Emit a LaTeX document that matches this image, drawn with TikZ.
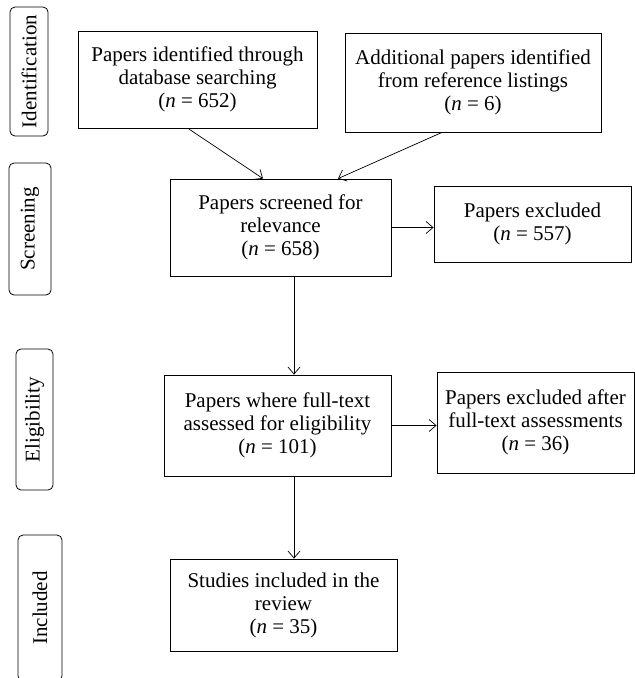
\documentclass[tikz,border=0pt]{standalone}
\usepackage{fontspec}
\setmainfont{Liberation Serif}
\usetikzlibrary{arrows.meta}

\tikzset{
  box/.style={draw, line width=0.8pt, align=center, inner sep=2pt,
    font=\fontsize{21}{23}\selectfont},
  phase/.style={draw, line width=0.8pt, rounded corners=5pt, rotate=90,
    inner sep=0pt, font=\fontsize{21}{23}\selectfont},
  arr/.style={-{Straight Barb[length=7pt,width=12pt]}, line width=0.7pt},
}

\begin{document}
\begin{tikzpicture}[x=1pt, y=-1pt]
  \useasboundingbox (0,0) rectangle (635,678);

  \node[phase, minimum width=129, minimum height=38] (p1) at (29, 71.5) {Identification};
  \node[phase, minimum width=132, minimum height=42] (p2) at (30, 229) {Screening};
  \node[phase, minimum width=141, minimum height=37] (p3) at (34.5, 419.5) {Eligibility};
  \node[phase, minimum width=146, minimum height=44] (p4) at (40, 608) {Included};

  \node[box, minimum width=239, minimum height=97] (b1) at (197.5, 79.5)
    {Papers identified through\\database searching\\(\textit{n} = 652)};

  \node[box, minimum width=256, minimum height=99] (b2) at (473, 82.5)
    {Additional papers identified\\from reference listings\\(\textit{n} = 6)};

  \node[box, minimum width=221, minimum height=97] (b3) at (280.5, 227.5)
    {Papers screened for\\relevance\\(\textit{n} = 658)};
  \draw[arr] ([xshift=-9.5]b1.south) -- ([xshift=-17.5]b3.north);
  \draw[arr] ([xshift=-31]b2.south) -- ([xshift=57.5]b3.north);

  \node[box, minimum width=197, minimum height=76] (b4) at (532.5, 224)
    {Papers excluded\\(\textit{n} = 557)};
  \draw[arr] (b3.east) -- (b3.east -| b4.west);

  \node[box, minimum width=227, minimum height=101] (b5) at (277.5, 425.5)
    {Papers where full-text\\assessed for eligibility\\(\textit{n} = 101)};
  \draw[arr] ([xshift=13.5]b3.south) -- ([xshift=13.5]b3.south |- b5.north);

  \node[box, minimum width=197, minimum height=101] (b6) at (535.5, 422.5)
    {Papers excluded after\\full-text assessments\\(\textit{n} = 36)};
  \draw[arr] (b5.east) -- (b5.east -| b6.west);

  \node[box, minimum width=227, minimum height=92] (b7) at (283.5, 605)
    {Studies included in the\\review\\(\textit{n} = 35)};
  \draw[arr] ([xshift=16.5]b5.south) -- ([xshift=16.5]b5.south |- b7.north);
\end{tikzpicture}
\end{document}
